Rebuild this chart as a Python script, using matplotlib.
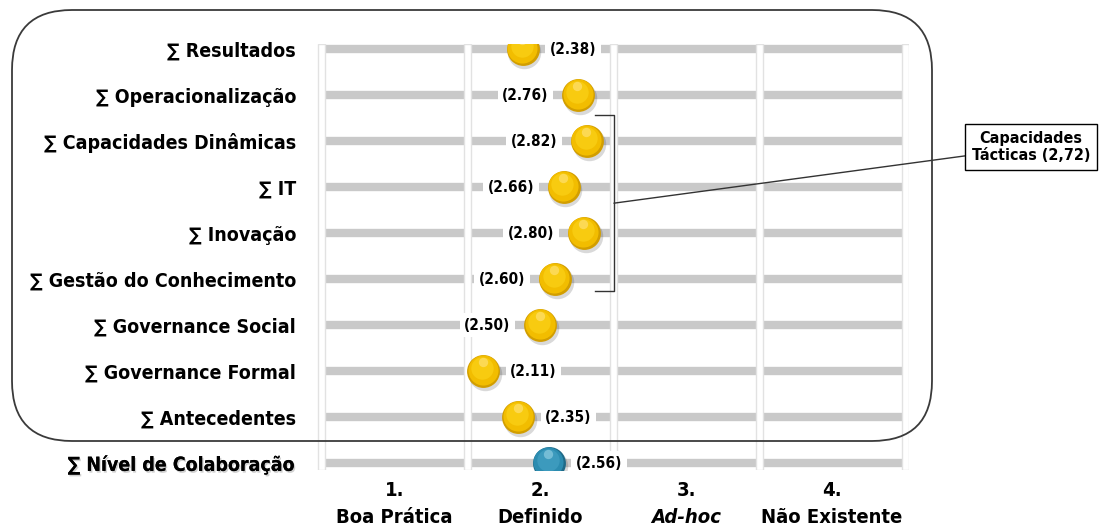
import matplotlib
matplotlib.use('Agg')
import matplotlib.pyplot as plt
from matplotlib.patches import FancyBboxPatch, Rectangle
from matplotlib import transforms, patheffects

# dados
categories = ['∑ Resultados', '∑ Operacionalização', '∑ Capacidades Dinâmicas', '∑ IT',
              '∑ Inovação', '∑ Gestão do Conhecimento', '∑ Governance Social',
              '∑ Governance Formal', '∑ Antecedentes', '∑ Nível de Colaboração']
values = [2.38, 2.76, 2.82, 2.66, 2.80, 2.60, 2.50, 2.11, 2.35, 2.56]
label_side = ['r', 'l', 'l', 'l', 'l', 'l', 'l', 'r', 'r', 'r']
level_nums = ['1.', '2.', '3.', '4.']
level_names = ['Boa Prática', 'Definido', 'Ad-hoc', 'Não Existente']
group_name = 'Capacidades\nTácticas (2,72)'
group_first, group_last = '∑ Capacidades Dinâmicas', '∑ Gestão do Conhecimento'
total_name = '∑ Nível de Colaboração'

FK = dict(family='DejaVu Sans', fontweight='bold', fontstretch='condensed')
YELLOW = ('#D29E00', '#F2BD00', '#F8CB10', '#FFE070')
TEAL = ('#1E6A88', '#2C8CB0', '#3C9ABD', '#8CCBE0')

fig = plt.figure(figsize=(11.1, 5.29), dpi=100)
ax = fig.add_axes([317 / 1110, 59 / 529, 592.4 / 1110, 426 / 529])
ax.set_xlim(0.97, 5.03)
ax.set_ylim(-0.15, 9.11)
for s in ax.spines.values():
    s.set_visible(False)

n = len(categories)
ypos = [n - 1 - i for i in range(n)]

# barras cinzentas
for y in ypos:
    for k in range(1, 5):
        ax.plot([k, k + 1], [y, y], lw=6, color='#C9C9C9', solid_capstyle='butt', zorder=1)
# separadores das colunas
for b in range(1, 6):
    ax.add_patch(Rectangle((b - 0.024, -0.15), 0.048, 9.26, fc='white', ec='#E2E2E2',
                           lw=1, zorder=2))


def ball(x, y, cols):
    sh = transforms.offset_copy(ax.transData, fig, x=1.2, y=-2.2, units='points')
    ax.scatter([x], [y], s=580, color='#000000', alpha=0.15, lw=0, transform=sh, zorder=5)
    ax.scatter([x], [y], s=560, color=cols[0], lw=0, zorder=6)
    t1 = transforms.offset_copy(ax.transData, fig, x=-0.4, y=0.7, units='points')
    ax.scatter([x], [y], s=470, color=cols[1], lw=0, transform=t1, zorder=7)
    t2 = transforms.offset_copy(ax.transData, fig, x=-0.8, y=2.0, units='points')
    ax.scatter([x], [y], s=260, color=cols[2], lw=0, transform=t2, zorder=8)
    t3 = transforms.offset_copy(ax.transData, fig, x=-0.5, y=6.5, units='points')
    ax.scatter([x], [y], s=45, marker='o', color=cols[3], alpha=0.7, lw=0, transform=t3,
               zorder=9)


for cat, v, y, side in zip(categories, values, ypos, label_side):
    ball(v, y, TEAL if cat == total_name else YELLOW)
    dx = 36 if side == 'r' else -38
    ax.annotate(f'({v:.2f})', xy=(v, y), xytext=(dx, 0), textcoords='offset points',
                ha='center', va='center', fontsize=11, **FK,
                bbox=dict(boxstyle='square,pad=0.3', fc='white', ec='none'), zorder=4)

# rótulos das categorias
ax.set_xticks([])
ax.set_yticks(ypos)
ax.set_yticklabels(categories, fontsize=14, **FK)
ax.tick_params(axis='y', length=0, pad=15)
for lab in ax.get_yticklabels():
    if lab.get_text() == total_name:
        lab.set_path_effects([patheffects.withSimplePatchShadow(offset=(1, -1.3),
                                                                shadow_rgbFace='#999999',
                                                                alpha=0.45),
                              patheffects.Normal()])

# níveis
blend = transforms.blended_transform_factory(ax.transData, ax.transAxes)
for k, (num, name) in enumerate(zip(level_nums, level_names)):
    ax.text(k + 1.5, -0.047, num, transform=blend, ha='center', va='center',
            fontsize=14.5, **FK)
    ax.text(k + 1.5, -0.112, name, transform=blend, ha='center', va='center',
            fontsize=14.5, **FK, style='italic' if name == 'Ad-hoc' else 'normal')

# chaveta do grupo
y_top = ypos[categories.index(group_first)] + 0.56
y_bot = ypos[categories.index(group_last)] - 0.26
ax.plot([2.875, 3.005, 3.005, 2.875], [y_top, y_top, y_bot, y_bot], color='#333333',
        lw=1, clip_on=False, zorder=10)
ax.annotate(group_name, xy=(3.005, (y_top + y_bot) / 2), xycoords='data',
            xytext=(1031, 529 - 147), textcoords='figure pixels', ha='center', va='center',
            fontsize=11.5, **FK, linespacing=1.25,
            bbox=dict(boxstyle='square,pad=0.4', fc='white', ec='black', lw=1),
            arrowprops=dict(arrowstyle='-', color='#333333', lw=1, shrinkA=0, shrinkB=0),
            zorder=10)

# caixa arredondada
box = FancyBboxPatch((0.12, 0.88), 9.20, 4.31, boxstyle='round,pad=0,rounding_size=0.6',
                     transform=fig.dpi_scale_trans, fc='none', ec='#3A3A3A', lw=1.3, zorder=10)
fig.add_artist(box)

fig.savefig('out.png', dpi=100, facecolor='white')
